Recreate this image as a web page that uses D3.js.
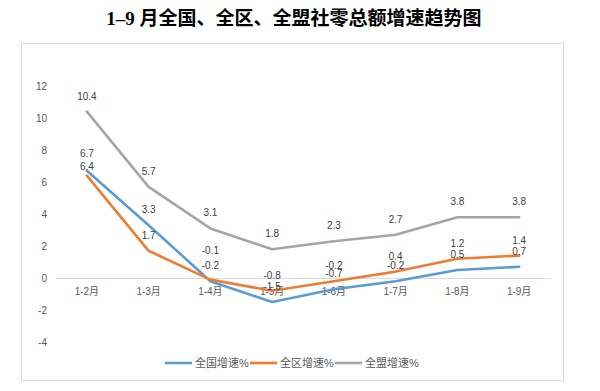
<!DOCTYPE html>
<html><head><meta charset="utf-8">
<script src="https://cdn.jsdelivr.net/npm/d3@7"></script>
<style>
html,body{margin:0;padding:0;background:#fff;}
svg{display:block;}
</style></head>
<body>
<svg id="chart" width="600" height="391"></svg>
<script>
const title = "1–9 月全国、全区、全盟社零总额增速趋势图";
const categories = ["1-2月","1-3月","1-4月","1-5月","1-6月","1-7月","1-8月","1-9月"];
const seriesNames = ["全国增速%","全区增速%","全盟增速%"];
const nationalValues = [6.7, 3.3, -0.2, -1.5, -0.7, -0.2, 0.5, 0.7];
const regionValues = [6.4, 1.7, -0.1, -0.8, -0.2, 0.4, 1.2, 1.4];
const leagueValues = [10.4, 5.7, 3.1, 1.8, 2.3, 2.7, 3.8, 3.8];
const yTicks = [-4, -2, 0, 2, 4, 6, 8, 10, 12];
const colors = ["#5B9BD5", "#ED7D31", "#A5A5A5"];
// label nudges (pixels) for overlapping labels: [seriesIndex, categoryIndex, dy]
const labelNudges = [[0,0,-2],[1,0,6],[1,2,-14]];

const series = [nationalValues, regionValues, leagueValues].map((v,i)=>({name:seriesNames[i], values:v, color:colors[i], idx:i}));

const svg = d3.select("#chart");
const txtFont = "'Liberation Sans', 'Noto Sans CJK SC', sans-serif";
const hy = s => s.replace(/\u2212/g, "-");

// frame
svg.append("rect").attr("x",21.5).attr("y",43.5).attr("width",542).attr("height",337)
  .attr("fill","#fff").attr("stroke","#D9D9D9").attr("stroke-width",1);

// title
svg.append("text").attr("x",294).attr("y",25).attr("text-anchor","middle")
  .attr("font-family","'Liberation Serif','Noto Sans CJK SC',serif").attr("font-weight","bold")
  .attr("font-size",19).attr("fill","#000").text(title);

const x = d3.scaleBand().domain(categories).range([56,550]);
const y = d3.scaleLinear().domain([-4,12]).range([342,86]);

// y axis labels
const yAxis = d3.axisLeft(y).tickValues(yTicks).tickSize(0).tickPadding(0).tickFormat(d=>hy(d3.format("d")(d)));
const gy = svg.append("g").attr("transform","translate(47,0)").call(yAxis);
gy.select(".domain").remove();
gy.selectAll("text").attr("font-family",txtFont).attr("font-size",10).attr("fill","#595959");

// zero line with x labels
const xAxis = d3.axisBottom(x).tickSize(0).tickPadding(10);
const gx = svg.append("g").attr("transform",`translate(0,${y(0)})`).call(xAxis);
gx.select(".domain").attr("stroke","#D9D9D9").attr("stroke-width",1);
gx.selectAll("text").attr("font-family",txtFont).attr("font-size",10).attr("fill","#595959");

const cx = c => x(c) + x.bandwidth()/2;
const line = d3.line().x((d,i)=>cx(categories[i])).y(d=>y(d));

svg.append("g").selectAll("path").data(series).join("path")
  .attr("d",d=>line(d.values)).attr("fill","none")
  .attr("stroke",d=>d.color).attr("stroke-width",2.6)
  .attr("stroke-linejoin","round").attr("stroke-linecap","round");

// data labels
const labels = [];
series.forEach(s=>s.values.forEach((v,i)=>{
  let dy = 0;
  labelNudges.forEach(n=>{ if(n[0]===s.idx && n[1]===i) dy = n[2]; });
  labels.push({v, i, s, dy});
}));
svg.append("g").selectAll("text").data(labels).join("text")
  .attr("x",d=>cx(categories[d.i]))
  .attr("y",d=>y(d.v) - 12 + d.dy)
  .attr("text-anchor","middle")
  .attr("font-family",txtFont).attr("font-size",10).attr("fill","#404040")
  .text(d=>hy(d3.format(".1f")(d.v)));

// legend
const legendItems = [{x:165},{x:250},{x:335}];
const lg = svg.append("g");
series.forEach((s,i)=>{
  const g = lg.append("g").attr("transform",`translate(${legendItems[i].x},363)`);
  g.append("line").attr("x1",0).attr("x2",27).attr("y1",0).attr("y2",0)
    .attr("stroke",s.color).attr("stroke-width",2.6);
  g.append("text").attr("x",30).attr("y",4)
    .attr("font-family",txtFont).attr("font-size",11).attr("fill","#595959").text(s.name);
});
</script>
</body></html>
